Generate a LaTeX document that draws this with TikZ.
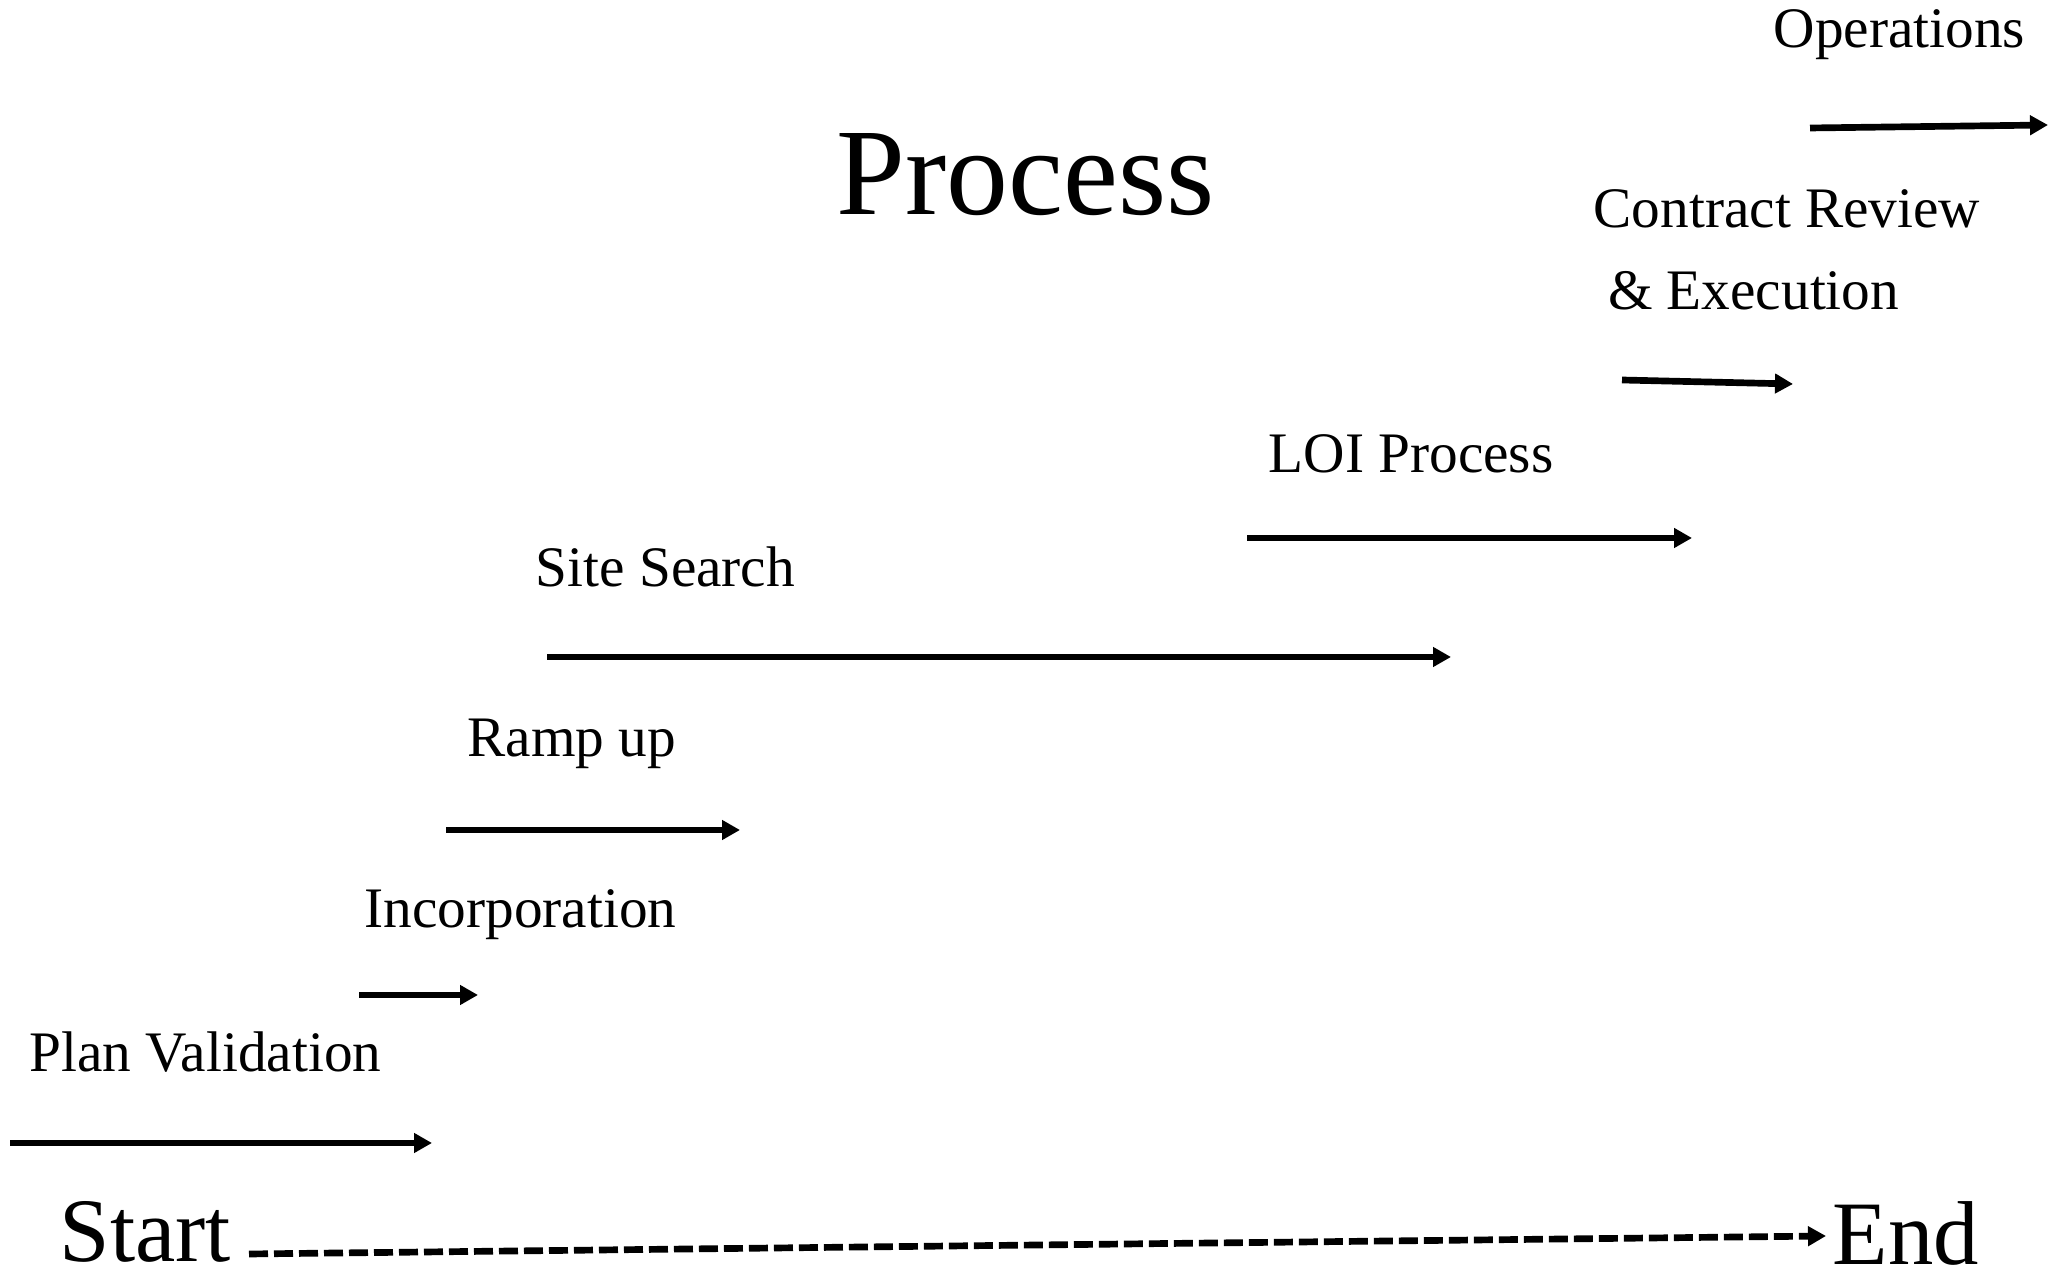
\documentclass[tikz,border=0pt]{standalone}
\usepackage{fontspec}
\setmainfont{Liberation Serif}
\usetikzlibrary{arrows.meta}

\tikzset{
  phase/.style={anchor=base west, inner sep=0pt, font=\fontsize{16.3}{23.4}\selectfont},
  stepline/.style={line width=1.9pt, -{Triangle[length=0.18cm,width=0.19cm]}},
}

\begin{document}
\begin{tikzpicture}
\useasboundingbox (0,0) rectangle (20.55,12.73);

% Title
\node[anchor=base west, inner sep=0pt, font=\fontsize{35.2}{40}\selectfont] (title) at (8.36,10.58) {Process};

% Phase labels
\node[phase] (ops) at (17.73,12.25) {Operations};
\node[phase, align=left] (contract) at (15.93,9.63) {Contract Review\\\ \& Execution};
\node[phase] (loi) at (12.68,8.00) {LOI Process};
\node[phase] (site) at (5.35,6.86) {Site Search};
\node[phase] (ramp) at (4.67,5.16) {Ramp up};
\node[phase] (inc) at (3.64,3.45) {Incorporation};
\node[phase] (plan) at (0.29,2.01) {Plan Validation};

% Phase arrows
\foreach \n/\xa/\ya/\xb/\yb in {ops/18.10/11.45/20.48/11.48, con/16.22/8.93/17.93/8.89,
    loi/12.47/7.35/16.92/7.35, site/5.47/6.16/14.51/6.16, ramp/4.46/4.43/7.40/4.43,
    inc/3.59/2.78/4.78/2.78, plan/0.10/1.30/4.32/1.30} {
  \coordinate (\n-from) at (\xa,\ya);
  \coordinate (\n-to) at (\xb,\yb);
  \draw[stepline] (\n-from) -- (\n-to);
}

% Start to end
\node[anchor=base west, inner sep=0pt, font=\fontsize{25.8}{30}\selectfont] (start) at (0.59,0.11) {Start};
\node[anchor=base west, inner sep=0pt, font=\fontsize{25.8}{30}\selectfont] (end) at (18.32,0.08) {End};
\coordinate (dash-from) at (2.49,0.19);
\draw[stepline, dash pattern=on 0.19cm off 0.06cm] (dash-from) -- ([xshift=-0.06cm,yshift=-0.02cm]end.west);
\end{tikzpicture}
\end{document}
